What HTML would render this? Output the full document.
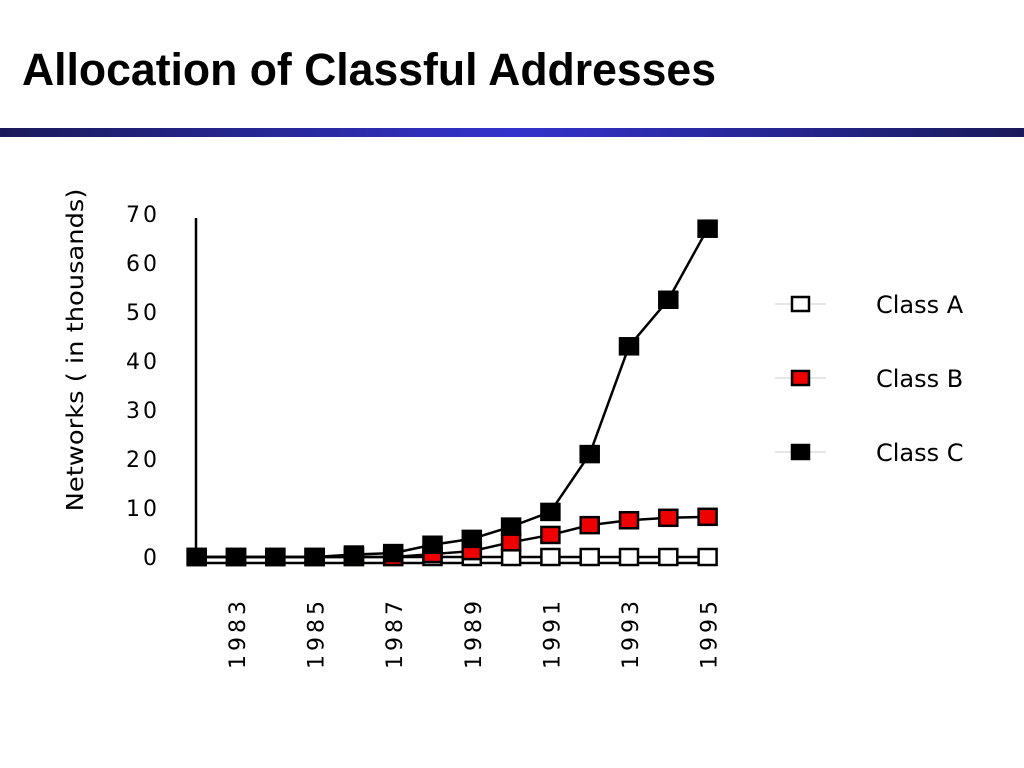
<!DOCTYPE html>
<html><head><meta charset="utf-8"><style>
body{margin:0;width:1024px;height:768px;background:#fff;overflow:hidden;font-family:"Liberation Sans",sans-serif}
h1{position:absolute;left:22px;top:47px;margin:0;font-size:45px;line-height:1;font-weight:bold;color:#000;transform:scaleX(0.99);transform-origin:0 0;white-space:nowrap}
.bar{position:absolute;left:0;top:128px;width:1024px;height:9px;background:linear-gradient(90deg,#1a1a5a,#3333cc 50%,#1a1a5a)}
</style></head><body>
<h1>Allocation of Classful Addresses</h1>
<div class="bar"></div>
<svg id="chart" width="1024" height="768" style="position:absolute;left:0;top:0"></svg>
<script>
const years=[1982,1983,1984,1985,1986,1987,1988,1989,1990,1991,1992,1993,1994,1995];
const classA=[0,0,0,0,0,0,0,0,0,0,0,0,0,0];
const classB=[0,0,0,0,0,0,0.6,1.2,3,4.5,6.5,7.5,8,8.2];
const classC=[0,0,0,0,0.5,0.8,2.5,3.7,6.2,9.2,21,43,52.5,67];
const yTicks=[0,10,20,30,40,50,60,70];
const xLabels=[1983,1985,1987,1989,1991,1993,1995];
const NS="http://www.w3.org/2000/svg";
const svg=document.getElementById('chart');
const X=y=>236+(y-1983)*39.3;
const Y=v=>557-v*4.9;
function mk(t,a){const e=document.createElementNS(NS,t);for(const k in a)e.setAttribute(k,a[k]);svg.appendChild(e);return e;}
const ya=mk('line',{x1:196,y1:218,x2:196,y2:563,stroke:'#000','stroke-width':2.5});


const xa=mk('line',{x1:188,y1:563,x2:708,y2:563,stroke:'#000','stroke-width':2.5});


yTicks.forEach(v=>{const t=mk('text',{x:160,y:Y(v)+8,'text-anchor':'end','font-size':22,'letter-spacing':'3','font-family':'DejaVu Sans, sans-serif'});t.textContent=v;

});
xLabels.forEach(v=>{const t=mk('text',{x:0,y:0,transform:`translate(${X(v)+9},${669}) rotate(-90)`,'font-size':22,'letter-spacing':'4','font-family':'DejaVu Sans, sans-serif'});t.textContent=v;

});
const yt=mk('text',{x:0,y:0,transform:'translate(83,350) rotate(-90) scale(1.12,1)','text-anchor':'middle','font-size':23,'font-family':'DejaVu Sans, sans-serif'});
yt.textContent='Networks ( in thousands)';


function series(vals,fill,name){
 const pts=years.map((y,i)=>X(y)+','+Y(vals[i])).join(' ');
 const l=mk('polyline',{points:pts,fill:'none',stroke:'#000','stroke-width':2.5});
 
 
 years.forEach((y,i)=>{const r=mk('rect',{x:X(y)-9,y:Y(vals[i])-8,width:18,height:16,fill:fill,stroke:'#000','stroke-width':2.5});
 
 });
}
series(classA,'#fff','class-a');
series(classB,'#e00','class-b');
series(classC,'#000','class-c');
[['Class A','#fff',304],['Class B','#e00',378],['Class C','#000',452]].forEach(([n,f,y])=>{
 const ln=mk('line',{x1:775,y1:y,x2:826,y2:y,stroke:'#ccc','stroke-width':1});
 
 
 const r=mk('rect',{x:792,y:y-7,width:17,height:14,fill:f,stroke:'#000','stroke-width':2.5});
 
 
 const t=mk('text',{x:876,y:y+9,'font-size':24,'font-family':'DejaVu Sans, sans-serif'});t.textContent=n;
 
 
});
</script>
</body></html>
